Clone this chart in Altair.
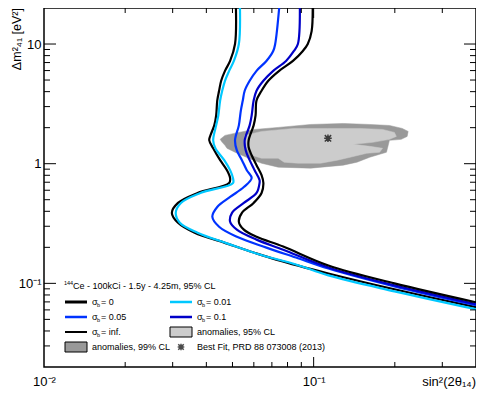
import altair as alt
import pandas as pd

# ---------------- data ----------------
# sigma_b = 0 (black, left)
s0_x = [0.0515, 0.0511, 0.0490, 0.0469, 0.0454, 0.0446, 0.0439, 0.0435, 0.0428, 0.0414, 0.0410, 0.0424,
        0.0450, 0.0477, 0.0490, 0.0486, 0.0371, 0.0314, 0.0298, 0.0314, 0.0362, 0.0466, 0.0599, 0.0726,
        0.1134, 0.1993, 0.40]
s0_y = [20, 10, 7.22, 5.97, 4.93, 4.07, 3.37, 2.53, 2.09, 1.72, 1.57, 1.345,
        1.07, 0.883, 0.759, 0.689, 0.569, 0.470, 0.388, 0.321, 0.265, 0.219, 0.181, 0.158,
        0.121, 0.0892, 0.0632]
# sigma_b = 0.01 (cyan)
s001_x = [0.0533, 0.0528, 0.0506, 0.0486, 0.0469, 0.0458, 0.0450, 0.0443, 0.0435, 0.0424, 0.0432, 0.0466,
          0.0490, 0.0502, 0.0502, 0.0380, 0.0322, 0.0308, 0.0319, 0.0371, 0.0480, 0.0630, 0.0860,
          0.1134, 0.1993, 0.40]
s001_y = [20, 10, 7.22, 5.97, 4.93, 4.07, 3.37, 2.53, 2.09, 1.57, 1.345, 1.07,
          0.883, 0.759, 0.689, 0.569, 0.470, 0.388, 0.321, 0.265, 0.2147, 0.174, 0.1439,
          0.1165, 0.0858, 0.0608]
# sigma_b = 0.05 (blue)
s005_x = [0.0745, 0.0720, 0.0708, 0.0668, 0.0614, 0.0579, 0.0555, 0.0546, 0.0537, 0.0528, 0.0511, 0.0519,
          0.0542, 0.0565, 0.0589, 0.0551, 0.0490, 0.0439, 0.0421, 0.0446, 0.0519, 0.0668, 0.0860,
          0.1134, 0.1993, 0.40]
s005_y = [20, 10, 8.75, 7.22, 5.97, 4.93, 4.07, 3.37, 2.78, 2.09, 1.57, 1.29,
          1.07, 0.883, 0.759, 0.638, 0.527, 0.435, 0.360, 0.297, 0.245, 0.199, 0.1644,
          0.1332, 0.0944, 0.0656]
# sigma_b = 0.1 (dark blue)
s01_x = [0.0889, 0.0874, 0.0845, 0.0790, 0.0708, 0.0651, 0.0614, 0.0599, 0.0589, 0.0579, 0.0555, 0.0560,
         0.0579, 0.0604, 0.0630, 0.0630, 0.0614, 0.0551, 0.0498, 0.0490, 0.0519, 0.0614, 0.0771,
         0.1134, 0.1993, 0.40]
s01_y = [20, 10, 8.75, 7.22, 5.97, 4.93, 4.07, 3.37, 2.53, 2.09, 1.57, 1.29,
         1.07, 0.883, 0.730, 0.689, 0.569, 0.470, 0.388, 0.327, 0.281, 0.232, 0.191,
         0.1358, 0.0962, 0.0669]
# sigma_b = inf. (black, right)
sinf_x = [0.0992, 0.0983, 0.0951, 0.0912, 0.0838, 0.0745, 0.0679, 0.0641, 0.0614, 0.0609, 0.0599, 0.0574,
          0.0574, 0.0589, 0.0614, 0.0641, 0.0651, 0.0641, 0.0599, 0.0542, 0.0528, 0.0551, 0.0614,
          0.0771, 0.1134, 0.1993, 0.40]
sinf_y = [20, 12.82, 10, 8.75, 7.22, 5.97, 4.93, 4.07, 3.37, 2.53, 2.09, 1.57,
          1.371, 1.176, 0.972, 0.803, 0.689, 0.569, 0.470, 0.388, 0.327, 0.281, 0.245,
          0.203, 0.1411, 0.100, 0.0695]

# anomalies contours
a99_x = [0.0450, 0.0469, 0.0528, 0.0604, 0.0739, 0.0975, 0.1287, 0.1614, 0.1910, 0.2131, 0.2241, 0.2222,
         0.2112, 0.1910, 0.1862, 0.1614, 0.1447, 0.1287, 0.0975, 0.0739, 0.0641, 0.0574, 0.0511,
         0.0477, 0.0469, 0.0458]
a99_y = [1.597, 1.724, 1.826, 1.933, 2.009, 2.127, 2.168, 2.127, 2.087, 1.971, 1.861, 1.691,
         1.597, 1.567, 1.246, 1.132, 1.029, 0.972, 0.918, 0.935, 1.009, 1.111, 1.246,
         1.345, 1.424, 1.508]
a95_x = [0.0555, 0.0641, 0.0845, 0.1125, 0.1484, 0.1801, 0.1993, 0.2026, 0.1910, 0.1656, 0.1400, 0.1614,
         0.1801, 0.1756, 0.1574, 0.1365, 0.1223, 0.1061, 0.0874, 0.0777, 0.0739, 0.0641, 0.0589,
         0.0565, 0.0551]
a95_y = [1.724, 1.861, 1.971, 1.971, 1.971, 1.933, 1.826, 1.691, 1.597, 1.508, 1.451, 1.397,
         1.345, 1.246, 1.222, 1.132, 1.069, 1.009, 1.009, 1.029, 1.111, 1.111, 1.176,
         1.345, 1.508]
best_x = [0.113]
best_y = [1.63]

series_names = ["s0", "s001", "s005", "s01", "sinf"]
series_colors = ["#000000", "#00c8ff", "#0033ff", "#0000c8", "#000000"]

x_major = [0.1]
x_minor = [0.02, 0.03, 0.04, 0.05, 0.06, 0.07, 0.08, 0.09, 0.2, 0.3]
y_major = [0.1, 1, 10]
y_minor = [0.03, 0.04, 0.05, 0.06, 0.07, 0.08, 0.09, 0.2, 0.3, 0.4, 0.5, 0.6, 0.7, 0.8, 0.9,
           2, 3, 4, 5, 6, 7, 8, 9]

leg_row = [0, 0, 1, 1, 2, 2, 3, 3]
leg_col = [0, 1, 0, 1, 0, 1, 0, 1]
leg_kind = ["line", "line", "line", "line", "line", "box", "box", "star"]
leg_color = ["#000000", "#00c8ff", "#0033ff", "#0000c8", "#000000", "#cccccc", "#999999", "#000000"]
leg_sw = [3, 2.5, 2.5, 2.5, 2, 0, 0, 0]
leg_sigma = [1, 1, 1, 1, 1, 0, 0, 0]
leg_rest = ["= 0", "= 0.01", "= 0.05", "= 0.1", "= inf.", "anomalies, 95% CL",
            "anomalies, 99% CL", "Best Fit, PRD 88 073008 (2013)"]

# ---------------- tables ----------------
curves = pd.concat([
    pd.DataFrame({"x": xv, "y": yv, "s": n, "i": range(len(xv))})
    for n, xv, yv in zip(series_names, [s0_x, s001_x, s005_x, s01_x, sinf_x],
                         [s0_y, s001_y, s005_y, s01_y, sinf_y])
])
blob99 = pd.DataFrame({"x": a99_x, "y": a99_y, "i": range(len(a99_x))})
blob95 = pd.DataFrame({"x": a95_x, "y": a95_y, "i": range(len(a95_x))})
best = pd.DataFrame({"x": best_x, "y": best_y})
leg = pd.DataFrame({"row": leg_row, "col": leg_col, "kind": leg_kind, "color": leg_color,
                    "sw": leg_sw, "sigma": leg_sigma, "rest": leg_rest})

W, H = 432, 359
FONT = "Liberation Sans"
xs = alt.Scale(type="log", domain=[0.01, 0.4], nice=False)
ys = alt.Scale(type="log", domain=[0.02, 20], nice=False)

xaxis = alt.Axis(values=[0.01, 0.1], labelExpr="datum.value < 0.05 ? '10⁻²' : '10⁻¹'",
                 ticks=False, domain=False, grid=False, title=None, labelFontSize=13,
                 labelFont=FONT, labelPadding=8, labelFlush=False, labelColor="black")
yaxis = alt.Axis(values=[0.1, 1, 10],
                 labelExpr="datum.value < 0.5 ? '10⁻¹' : (datum.value < 5 ? '1' : '10')",
                 ticks=False, domain=False, grid=False, title=None, labelFontSize=13,
                 labelFont=FONT, labelPadding=3, labelFlush=False, labelColor="black")

X = alt.X("x:Q", scale=xs, axis=xaxis)
Y = alt.Y("y:Q", scale=ys, axis=yaxis)

l99 = alt.Chart(blob99).mark_line(fill="#999999", stroke="#999999", strokeWidth=0.5,
                                   interpolate="linear-closed").encode(x=X, y=Y, order="i:Q")
l95 = alt.Chart(blob95).mark_line(fill="#cccccc", stroke="#cccccc", strokeWidth=0.5,
                                   interpolate="linear-closed").encode(x=X, y=Y, order="i:Q")
lines = alt.Chart(curves).mark_line(strokeWidth=2.2, interpolate="catmull-rom", clip=True).encode(
    x=X, y=Y, order="i:Q", detail="s:N",
    color=alt.Color("s:N", scale=alt.Scale(domain=series_names, range=series_colors), legend=None))
star_path = "M-1,-1L1,1M-1,1L1,-1M0,-1.2L0,1.2M-1.2,0L1.2,0"
bf = alt.Chart(best).mark_point(shape=star_path, size=40, stroke="black", strokeWidth=1.5,
                                filled=False).encode(x=X, y=Y)

# inward ticks
def xt(vals, length, bottom=True):
    d = pd.DataFrame({"x": vals})
    y0, y1 = (H, H - length) if bottom else (0, length)
    return alt.Chart(d).mark_rule(color="black", strokeWidth=1).encode(
        x=alt.X("x:Q", scale=xs), y=alt.value(y0), y2=alt.value(y1))

def yt(vals, length, left=True):
    d = pd.DataFrame({"y": vals})
    x0, x1 = (0, length) if left else (W, W - length)
    return alt.Chart(d).mark_rule(color="black", strokeWidth=1).encode(
        y=alt.Y("y:Q", scale=ys), x=alt.value(x0), x2=alt.value(x1))

ticks = [xt(x_major, 10), xt(x_minor, 5), xt(x_major, 10, False), xt(x_minor, 5, False),
         yt(y_major, 12), yt(y_minor, 6), yt(y_major, 12, False), yt(y_minor, 6, False)]

# legend
lb = alt.Chart(leg).transform_calculate(
    sx="21 + datum.col * 105", sx2="43 + datum.col * 105", sy="294 + datum.row * 15",
    sc="32 + datum.col * 105", lx="48 + datum.col * 105",
    rx="48 + datum.col * 105 + datum.sigma * 9")
PX = lambda f: alt.X(f + ":Q", scale=None)
PY = lambda f: alt.Y(f + ":Q", scale=None)
leg_lines = lb.transform_filter("datum.kind == 'line'").mark_rule().encode(
    x=PX("sx"), x2="sx2:Q", y=PY("sy"), color=alt.Color("color:N", scale=None),
    strokeWidth=alt.StrokeWidth("sw:Q", scale=None))
leg_boxes = lb.transform_filter("datum.kind == 'box'").transform_calculate(
    by0="datum.sy - 5", by1="datum.sy + 5").mark_rect(stroke="black", strokeWidth=1).encode(
    x=PX("sx"), x2="sx2:Q", y=PY("by0"), y2="by1:Q", fill=alt.Fill("color:N", scale=None))
leg_star = lb.transform_filter("datum.kind == 'star'").mark_point(
    shape=star_path, size=30, stroke="black", strokeWidth=1.5, filled=False).encode(
    x=PX("sc"), y=PY("sy"))
leg_sig = lb.transform_filter("datum.sigma == 1").mark_text(
    text="σ", font=FONT, fontSize=9, align="left", baseline="middle").encode(x=PX("lx"), y=PY("sy"))
leg_sub = lb.transform_filter("datum.sigma == 1").mark_text(
    text="b", font=FONT, fontSize=5.5, align="left", baseline="middle", dx=5, dy=3).encode(
    x=PX("lx"), y=PY("sy"))
leg_txt = lb.mark_text(font=FONT, fontSize=9, align="left", baseline="middle").encode(
    x=PX("rx"), y=PY("sy"), text="rest:N")

hdr = pd.DataFrame({"t": ["Ce - 100kCi - 1.5y - 4.25m, 95% CL"]})
leg_title = alt.Chart(hdr).mark_text(font=FONT, fontSize=9, align="left", baseline="middle").encode(
    x=alt.value(29), y=alt.value(278), text="t:N")
leg_title_sup = alt.Chart(hdr).mark_text(text="144", font=FONT, fontSize=5.5, align="left",
                                         baseline="middle").encode(x=alt.value(20), y=alt.value(275))

# axis titles
ytitle = alt.Chart(hdr).mark_text(text="Δm²₄₁ [eV²]", font=FONT, fontSize=12.5, angle=270,
                                  align="right", baseline="middle").encode(
    x=alt.value(-27), y=alt.value(0))
xtitle = alt.Chart(hdr).mark_text(text="sin²(2θ₁₄)", font=FONT, fontSize=13, align="right",
                                  baseline="bottom").encode(x=alt.value(W), y=alt.value(381))

chart = alt.layer(l99, l95, lines, bf, *ticks, leg_lines, leg_boxes, leg_star, leg_sig, leg_sub,
                  leg_txt, leg_title, leg_title_sup, ytitle, xtitle).properties(
    width=W, height=H,
    padding={"left": 36, "top": 0, "right": 0, "bottom": 23},
    autosize=alt.AutoSizeParams(type="none"),
    background="white",
).configure_view(stroke="black", strokeWidth=1.5)

chart.save("out.html", embed_options={"renderer": "svg", "actions": False})
